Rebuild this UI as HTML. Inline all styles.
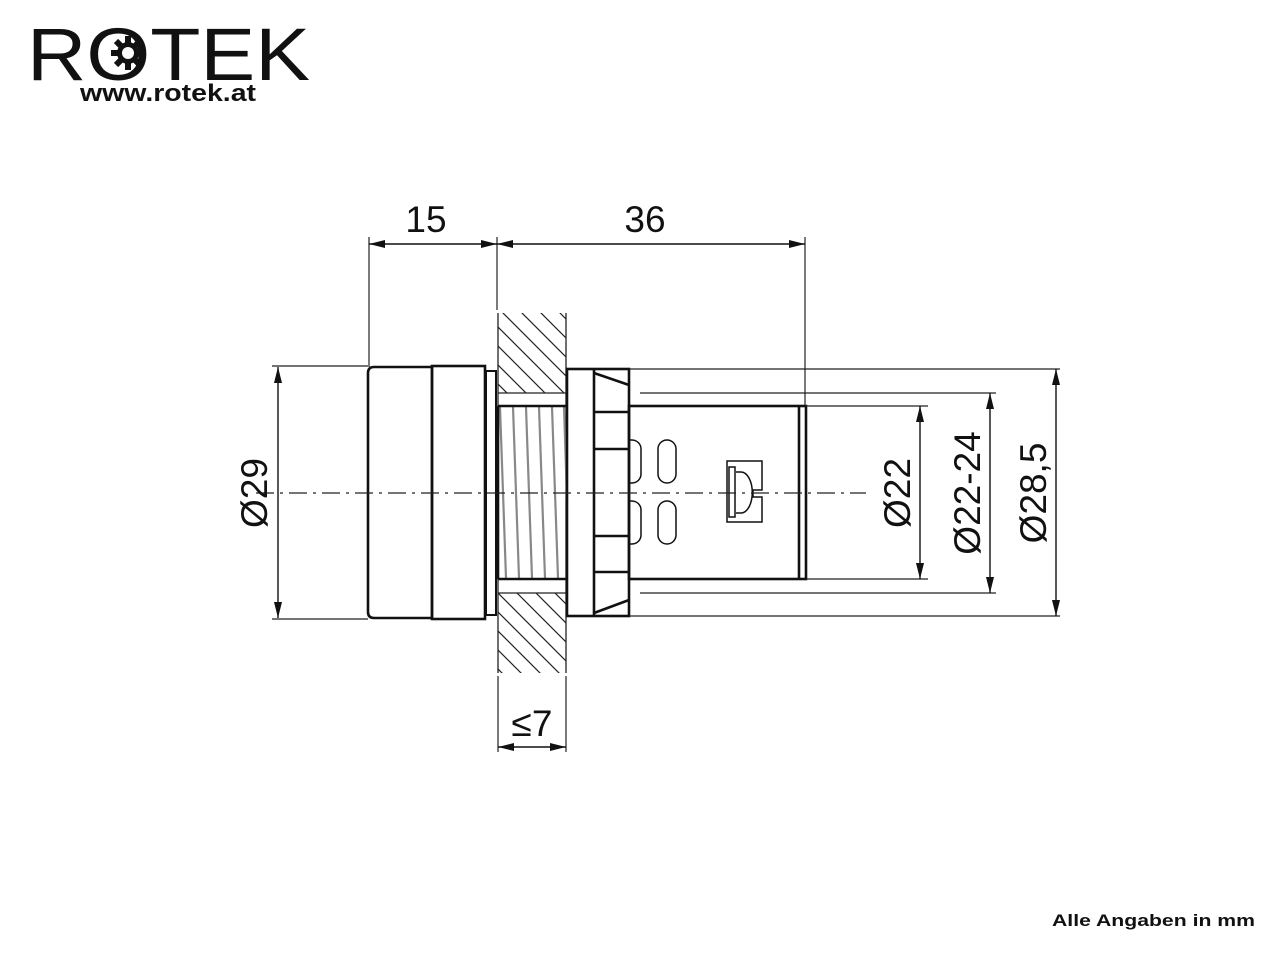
<!DOCTYPE html>
<html><head><meta charset="utf-8"><style>
html,body{margin:0;padding:0;background:#fff;width:1280px;height:960px;overflow:hidden}
svg{display:block}
text{font-family:"Liberation Sans",Arial,sans-serif}
</style></head><body>
<svg width="1280" height="960" viewBox="0 0 1280 960" xmlns="http://www.w3.org/2000/svg">
<defs>
<marker id="a" viewBox="0 0 16 8" refX="16" refY="4" markerWidth="16" markerHeight="8" markerUnits="userSpaceOnUse" orient="auto-start-reverse"><path d="M0,0 L16,4 L0,8 z" fill="#111"/></marker>
<clipPath id="ct"><rect x="498" y="313" width="68" height="80"/></clipPath>
<clipPath id="cb"><rect x="498" y="593" width="68" height="80"/></clipPath>
<pattern id="h" patternUnits="userSpaceOnUse" width="19" height="19"><path d="M-5,-5 L24,24 M-24,-5 L5,24 M14,-5 L43,24" stroke="#222" stroke-width="1.2"/></pattern>
</defs>
<!-- logo -->
<text x="27" y="80" font-size="74" textLength="283" lengthAdjust="spacingAndGlyphs" fill="#111">ROTEK</text>
<g transform="translate(128,53)" fill="#111">
<circle r="11"/>
<g stroke="#111" stroke-width="6"><line x1="-17" y1="0" x2="17" y2="0"/><line x1="0" y1="-17" x2="0" y2="17"/><line x1="-12" y1="-12" x2="12" y2="12"/><line x1="-12" y1="12" x2="12" y2="-12"/></g>
<circle r="6" fill="#fff"/>
</g>
<text x="80" y="101" font-size="24" font-weight="bold" textLength="176" lengthAdjust="spacingAndGlyphs" fill="#111">www.rotek.at</text>

<!-- panel hatch -->
<rect x="498" y="313" width="68" height="80" fill="url(#h)" clip-path="url(#ct)"/>
<rect x="498" y="593" width="68" height="80" fill="url(#h)" clip-path="url(#cb)"/>
<g stroke="#222" stroke-width="1.3" fill="none">
<line x1="498" y1="313" x2="498" y2="673"/>
<line x1="566" y1="313" x2="566" y2="673"/>
<line x1="498" y1="393" x2="566" y2="393"/>
<line x1="498" y1="593" x2="566" y2="593"/>
</g>
<!-- thread -->
<g stroke="#888" stroke-width="2.2">
<path d="M500,407 L506,578 M513,407 L519,578 M526,407 L532,578 M539,407 L545,578 M552,407 L558,578 M564,407 L567,500"/>
</g>
<g stroke="#111" stroke-width="2.6" fill="none">
<line x1="498" y1="406" x2="567" y2="406"/>
<line x1="498" y1="579" x2="567" y2="579"/>
<line x1="498" y1="406" x2="498" y2="579"/>
<!-- cap -->
<path d="M374,367 L432,367 L432,618 L374,618 Q368,618 368,612 L368,373 Q368,367 374,367 Z"/>
<rect x="432" y="366" width="53" height="253"/>
<rect x="486" y="371" width="10" height="244" stroke-width="2"/>
<!-- nut -->
<rect x="567" y="369" width="62" height="247"/>
<line x1="594" y1="369" x2="594" y2="616"/>
<line x1="594" y1="412" x2="629" y2="412"/>
<line x1="594" y1="449" x2="629" y2="449"/>
<line x1="594" y1="536" x2="629" y2="536"/>
<line x1="594" y1="572" x2="629" y2="572"/>
<line x1="594" y1="373" x2="629" y2="385"/>
<line x1="594" y1="613" x2="629" y2="600"/>
<!-- body -->
<rect x="629" y="406" width="177" height="173"/>
<line x1="799" y1="406" x2="799" y2="579"/>
</g>
<g stroke="#111" stroke-width="1.5" fill="none">
<path d="M629,440 L632,440 A9,9 0 0 1 641,449 L641,474 A9,9 0 0 1 632,483 L629,483"/>
<path d="M629,501 L632,501 A9,9 0 0 1 641,510 L641,535 A9,9 0 0 1 632,544 L629,544"/>
<rect x="658" y="440" width="18" height="43" rx="9"/>
<rect x="658" y="501" width="18" height="43" rx="9"/>
<path d="M727,461 L762,461 L762,490 L753,490 L753,497 L762,497 L762,522 L727,522 Z"/>
<rect x="729" y="467" width="6" height="50"/>
<path d="M736,472 L741,472 A11,20 0 0 1 741,513 L736,513"/>
</g>
<!-- center line -->
<line x1="256" y1="493" x2="866" y2="493" stroke="#222" stroke-width="1.2" stroke-dasharray="18,6,3,6"/>

<!-- extension & dimension lines -->
<g stroke="#222" stroke-width="1.2" fill="none">
<line x1="369" y1="237" x2="369" y2="367"/>
<line x1="497" y1="237" x2="497" y2="310"/>
<line x1="805" y1="237" x2="805" y2="406"/>
<line x1="272" y1="366" x2="368" y2="366"/>
<line x1="272" y1="619" x2="368" y2="619"/>
<line x1="629" y1="369" x2="1060" y2="369"/>
<line x1="629" y1="616" x2="1060" y2="616"/>
<line x1="640" y1="393" x2="996" y2="393"/>
<line x1="640" y1="593" x2="996" y2="593"/>
<line x1="806" y1="406" x2="928" y2="406"/>
<line x1="806" y1="579" x2="928" y2="579"/>
<line x1="498" y1="676" x2="498" y2="752"/>
<line x1="566" y1="676" x2="566" y2="752"/>
</g>
<g stroke="#111" stroke-width="1.4">
<line x1="369" y1="244" x2="497" y2="244" marker-start="url(#a)" marker-end="url(#a)"/>
<line x1="497" y1="244" x2="805" y2="244" marker-start="url(#a)" marker-end="url(#a)"/>
<line x1="278" y1="367" x2="278" y2="618" marker-start="url(#a)" marker-end="url(#a)"/>
<line x1="920" y1="406" x2="920" y2="579" marker-start="url(#a)" marker-end="url(#a)"/>
<line x1="990" y1="393" x2="990" y2="593" marker-start="url(#a)" marker-end="url(#a)"/>
<line x1="1056" y1="369" x2="1056" y2="616" marker-start="url(#a)" marker-end="url(#a)"/>
<line x1="498" y1="747" x2="566" y2="747" marker-start="url(#a)" marker-end="url(#a)"/>
</g>
<g font-size="37" fill="#111" text-anchor="middle">
<text x="426" y="232">15</text>
<text x="645" y="232">36</text>
<text x="532" y="736">≤7</text>
<text transform="translate(267,493) rotate(-90)">Ø29</text>
<text transform="translate(910,493) rotate(-90)">Ø22</text>
<text transform="translate(980,493) rotate(-90)">Ø22-24</text>
<text transform="translate(1046,493) rotate(-90)">Ø28,5</text>
</g>
<text x="1052" y="926" font-size="17" font-weight="bold" textLength="203" lengthAdjust="spacingAndGlyphs" fill="#111">Alle Angaben in mm</text>
</svg>
</body></html>
